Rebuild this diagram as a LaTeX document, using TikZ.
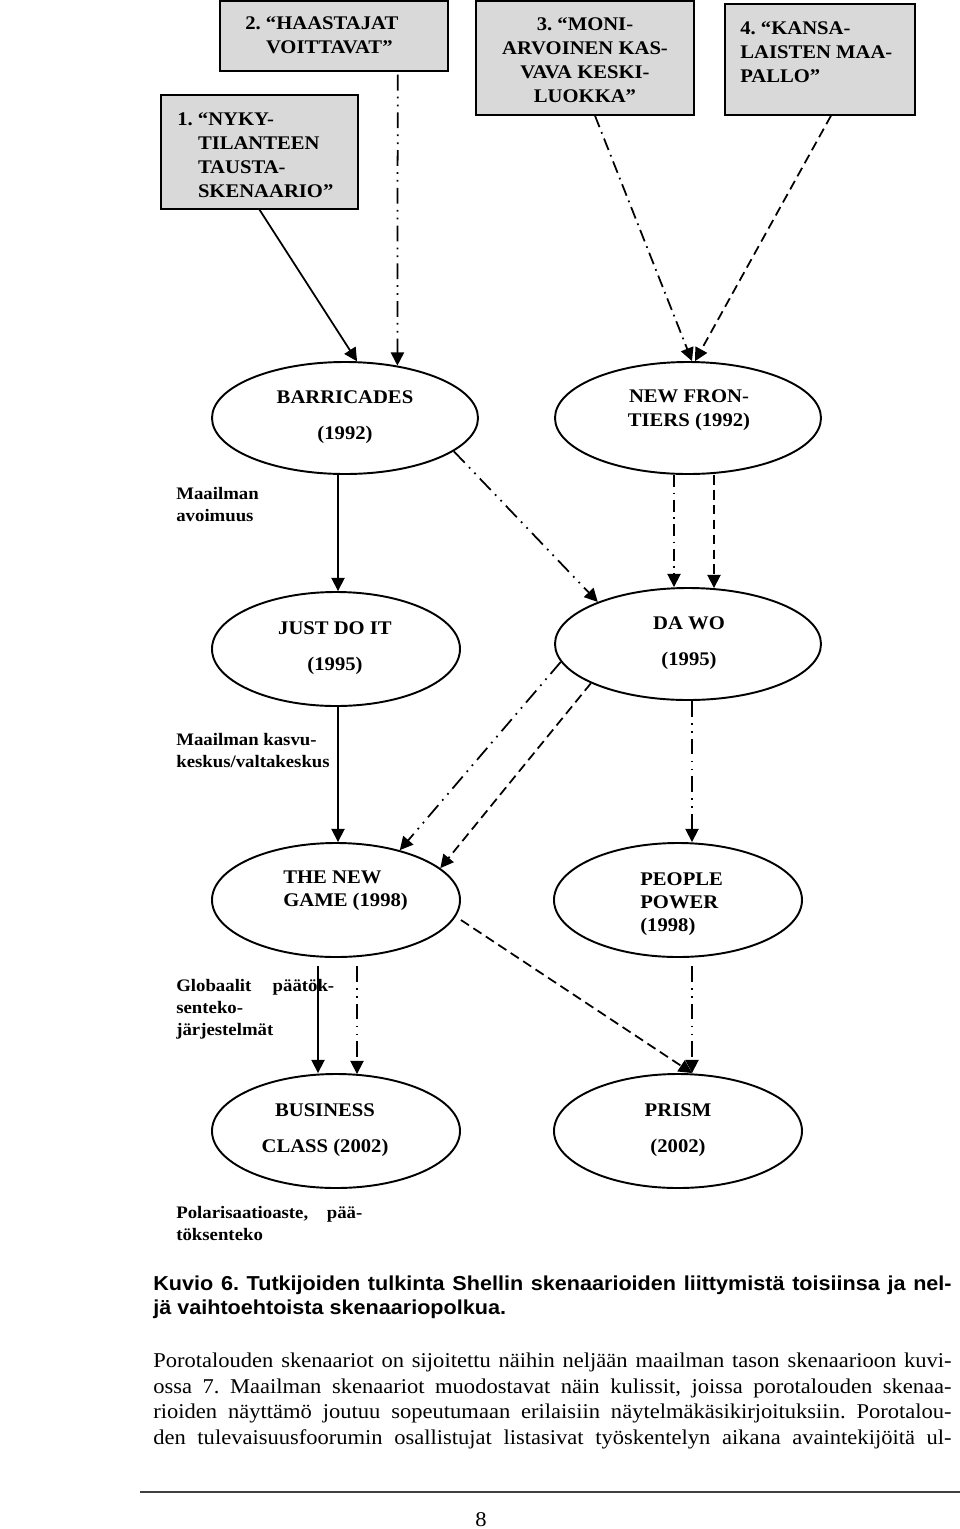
\documentclass[tikz,border=0pt]{standalone}
\usepackage{fontspec}
\setmainfont[FakeStretch=1.07]{Liberation Serif}
\newfontfamily\capfont[FakeStretch=1.07]{Liberation Sans}
\usetikzlibrary{shapes.geometric,arrows.meta,calc}
\def\pxu{0.57pt}
\frenchspacing
\tikzset{
  sbox/.style={draw, fill=black!15, line width=0.8pt, inner sep=0pt},
  ell/.style={ellipse, draw, line width=1.1pt, inner sep=0pt},
  btxt/.style={font=\fontsize{11}{13.7}\selectfont\bfseries, inner sep=0pt},
  etxt/.style={font=\fontsize{11}{13.3}\selectfont\bfseries, inner sep=0pt, align=center},
  side/.style={font=\fontsize{10}{12.5}\selectfont\bfseries, inner sep=0pt, align=left, anchor=north west},
  body/.style={font=\fontsize{12}{14.5}\selectfont, inner sep=0pt, anchor=base west},
  capt/.style={font=\fontsize{11.5}{14}\selectfont\capfont\bfseries, inner sep=0pt, anchor=base west},
  con/.style={line width=1pt, -{Triangle[width=7.5pt,length=7.5pt]}},
  solidc/.style={con},
  dashc/.style={con, dash pattern=on 5.5pt off 3pt},
  dotc/.style={con, dash pattern=on 7pt off 3pt on 1pt off 3pt},
  ddotc/.style={con, dash pattern=on 9pt off 3.5pt on 1pt off 3.5pt on 1pt off 3.5pt},
}
\begin{document}
\begin{tikzpicture}[x=0.57pt, y=-0.57pt]
\useasboundingbox (0,0) rectangle (960,1529);

% top boxes
\node[sbox, minimum width=197*\pxu, minimum height=114*\pxu] (box1) at (259.5,152) {};
\node[sbox, minimum width=228*\pxu, minimum height=70*\pxu] (box2) at (334,36) {};
\node[sbox, minimum width=218*\pxu, minimum height=114*\pxu] (box3) at (585,58) {};
\node[sbox, minimum width=190*\pxu, minimum height=111*\pxu] (box4) at (820,59.5) {};

\node[btxt, align=left, anchor=west] (b1t) at (177,155) {1.~“NYKY-\\\hphantom{1.~}TILANTEEN\\\hphantom{1.~}TAUSTA-\\\hphantom{1.~}SKENAARIO”};
\node[btxt, align=left, anchor=west] (b2t) at (245,35) {2.~“HAASTAJAT\\\hphantom{2.~}VOITTAVAT”};
\node[btxt, align=center] (b3t) at (585,60) {3.~“MONI-\\ARVOINEN KAS-\\VAVA KESKI-\\LUOKKA”};
\node[btxt, align=left, anchor=west] (b4t) at (740,52) {4.~“KANSA-\\LAISTEN MAA-\\PALLO”};

% ellipses
\node[ell, minimum width=266*\pxu, minimum height=112*\pxu] (barr) at (345,418) {};
\node[ell, minimum width=266*\pxu, minimum height=112*\pxu] (nf) at (688,418) {};
\node[ell, minimum width=248*\pxu, minimum height=114*\pxu] (jdi) at (336,649) {};
\node[ell, minimum width=266*\pxu, minimum height=112*\pxu] (dawo) at (688,644) {};
\node[ell, minimum width=248*\pxu, minimum height=114*\pxu] (ng) at (336,900) {};
\node[ell, minimum width=248*\pxu, minimum height=114*\pxu] (pp) at (678,900) {};
\node[ell, minimum width=248*\pxu, minimum height=114*\pxu] (bc) at (336,1131) {};
\node[ell, minimum width=248*\pxu, minimum height=114*\pxu] (pr) at (678,1131) {};

\node[etxt] (barrt) at (345,417) {BARRICADES\\[7.5pt](1992)};
\node[etxt] (nft) at (689,410) {NEW FRON-\\TIERS (1992)};
\node[etxt] (jdit) at (335,648) {JUST DO IT\\[7.5pt](1995)};
\node[etxt] (dawot) at (689,643) {DA WO\\[7.5pt](1995)};
\node[etxt, align=left, anchor=west] (ngt) at (283,891) {THE NEW\\GAME (1998)};
\node[etxt, align=left, anchor=west] (ppt) at (640,904) {PEOPLE\\POWER\\(1998)};
\node[etxt] (bct) at (325,1130) {BUSINESS\\[7.5pt]CLASS (2002)};
\node[etxt] (prt) at (678,1130) {PRISM\\[7.5pt](2002)};

% side labels
\node[side] (s1) at (176,487) {Maailman\\avoimuus};
\node[side] (s2) at (176,733) {Maailman kasvu-\\keskus/valtakeskus};
\node[side] (s3) at (176,979) {\makebox[90pt][s]{Globaalit päätök-}\\senteko-\\järjestelmät};
\node[side] (s4) at (176,1206) {\makebox[106pt][s]{Polarisaatioaste, pää-}\\töksenteko};

% connectors
\draw[solidc] (box1.south) -- (barr.78);
\draw[ddotc] ($(box2.south east)+(-51,3)$) -- (barr.45);
\draw[dotc] ($(box3.south)+(10,0)$) -- (nf.86);
\draw[dashc] ($(box4.south)+(11,0)$) -- (nf.83);

\draw[solidc] ($(barr.south)+(-7,0)$) -- ($(jdi.north)+(2,0)$);
\draw[ddotc] (barr.-17) -- (dawo.155);
\draw[dotc] ($(nf.south)+(-14,0)$) -- ($(dawo.north)+(-14,0)$);
\draw[dashc] ($(nf.south)+(26,0)$) -- ($(dawo.north)+(26,1)$);

\draw[solidc] ($(jdi.south)+(2,0)$) -- ($(ng.north)+(2,0)$);
\draw[ddotc] (dawo.188) -- (ng.38);
\draw[dashc] (dawo.202) -- (ng.17);
\draw[ddotc] ($(dawo.south)+(4,0)$) -- ($(pp.north)+(14,0)$);

\draw[solidc] ($(ng.south)+(-18,8)$) -- ($(bc.north)+(-18,0)$);
\draw[ddotc] ($(ng.south)+(21,8)$) -- ($(bc.north)+(21,1)$);
\draw[dashc] ($(ng.east)+(0,20)$) -- ($(pr.north)+(14,0)$);
\draw[ddotc] ($(pp.south)+(14,8)$) -- ($(pr.north)+(14,0)$);

% caption and body text
\node[capt] (cap1) at (153,1290) {\makebox[455pt][s]{Kuvio 6. Tutkijoiden tulkinta Shellin skenaarioiden liittymistä toisiinsa ja nel-}};
\node[capt] (cap2) at (153,1314) {jä vaihtoehtoista skenaariopolkua.};

\node[body] (l1) at (153,1367) {\makebox[455pt][s]{Porotalouden skenaariot on sijoitettu näihin neljään maailman tason skenaarioon kuvi-}};
\node[body] (l2) at (153,1393) {\makebox[455pt][s]{ossa 7. Maailman skenaariot muodostavat näin kulissit, joissa porotalouden skenaa-}};
\node[body] (l3) at (153,1418) {\makebox[455pt][s]{rioiden näyttämö joutuu sopeutumaan erilaisiin näytelmäkäsikirjoituksiin. Porotalou-}};
\node[body] (l4) at (153,1444) {\makebox[455pt][s]{den tulevaisuusfoorumin osallistujat listasivat työskentelyn aikana avaintekijöitä ul-}};

\draw[line width=0.9pt, black!75] (140,1492) -- (960,1492);
\node[font=\fontsize{12}{14}\selectfont, inner sep=0pt] (pnum) at (481,1520) {8};
\end{tikzpicture}
\end{document}
